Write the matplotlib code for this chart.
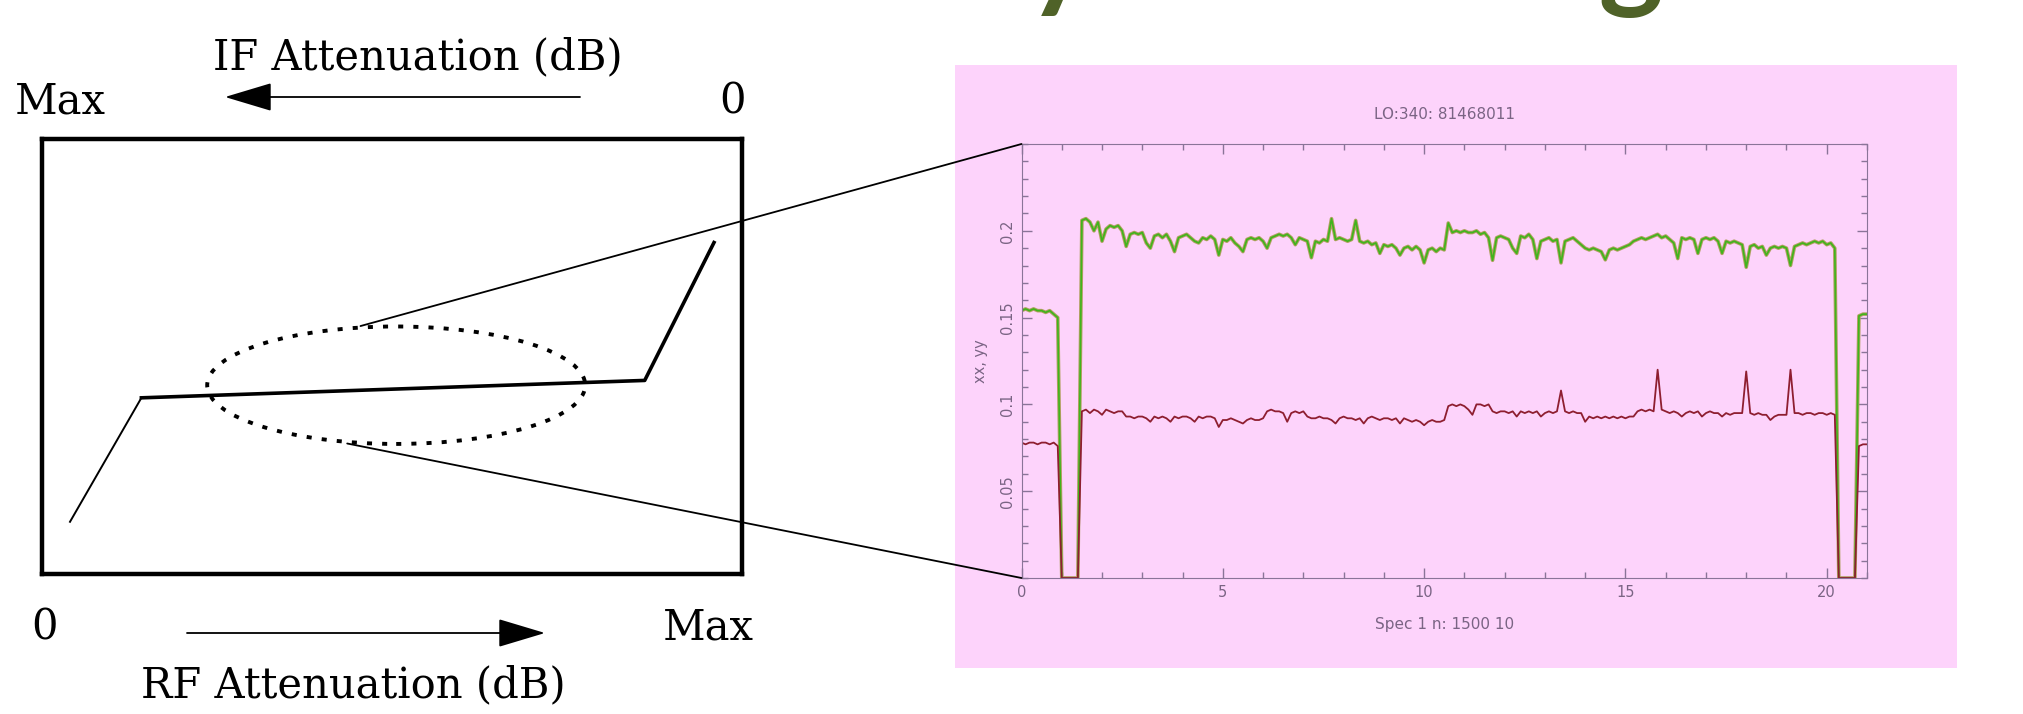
import numpy as np
import matplotlib.pyplot as plt
from matplotlib.patches import Ellipse, ConnectionPatch, FancyArrowPatch
from matplotlib.ticker import MultipleLocator

# ---- data ----
# schematic: output level vs attenuation (normalised box coords)
curve_x = [0.040, 0.142, 0.861, 0.960]
curve_y = [0.120, 0.405, 0.445, 0.762]
ellipse_c = (0.506, 0.434)
ellipse_wh = (0.540, 0.270)
conn_top = (0.455, 0.570)
conn_bot = (0.436, 0.300)

# spectrum: xx (red) and yy (green), sampled every 0.1 from 0 to 21
yy = [0.154, 0.155, 0.154, 0.155, 0.154, 0.154, 0.153, 0.154, 0.152, 0.150,
      0.0, 0.0, 0.0, 0.0, 0.0, 0.206, 0.207, 0.205, 0.200, 0.205,
      0.194, 0.201, 0.203, 0.202, 0.203, 0.200, 0.191, 0.198, 0.199, 0.198,
      0.199, 0.193, 0.190, 0.197, 0.198, 0.196, 0.198, 0.194, 0.188, 0.196,
      0.197, 0.198, 0.196, 0.194, 0.193, 0.196, 0.195, 0.197, 0.195, 0.186,
      0.195, 0.194, 0.196, 0.193, 0.191, 0.188, 0.195, 0.196, 0.195, 0.196,
      0.194, 0.190, 0.196, 0.197, 0.198, 0.197, 0.198, 0.196, 0.192, 0.196,
      0.195, 0.194, 0.1845, 0.194, 0.193, 0.195, 0.194, 0.207, 0.195, 0.196,
      0.195, 0.194, 0.195, 0.206, 0.194, 0.193, 0.194, 0.192, 0.193, 0.187,
      0.192, 0.191, 0.192, 0.190, 0.186, 0.190, 0.191, 0.189, 0.191, 0.189,
      0.1815, 0.189, 0.190, 0.188, 0.190, 0.189, 0.2045, 0.199, 0.200, 0.199,
      0.200, 0.199, 0.199, 0.200, 0.198, 0.199, 0.196, 0.183, 0.196, 0.197,
      0.196, 0.195, 0.190, 0.187, 0.197, 0.196, 0.198, 0.195, 0.184, 0.194,
      0.195, 0.196, 0.194, 0.195, 0.1815, 0.194, 0.195, 0.196, 0.194, 0.192,
      0.190, 0.189, 0.190, 0.189, 0.188, 0.1833, 0.189, 0.190, 0.189, 0.190,
      0.191, 0.192, 0.194, 0.195, 0.196, 0.195, 0.196, 0.197, 0.198, 0.196,
      0.197, 0.195, 0.193, 0.184, 0.196, 0.195, 0.196, 0.195, 0.187, 0.195,
      0.196, 0.195, 0.196, 0.194, 0.187, 0.194, 0.193, 0.194, 0.193, 0.192,
      0.179, 0.191, 0.192, 0.190, 0.191, 0.186, 0.190, 0.191, 0.190, 0.191,
      0.190, 0.180, 0.191, 0.192, 0.193, 0.192, 0.193, 0.194, 0.193, 0.194,
      0.192, 0.193, 0.190, 0.0, 0.0, 0.0, 0.0, 0.0, 0.151, 0.152,
      0.152]

xx = [0.078, 0.077, 0.078, 0.078, 0.077, 0.078, 0.078, 0.077, 0.078, 0.076,
      0.0, 0.0, 0.0, 0.0, 0.0, 0.096, 0.097, 0.095, 0.097, 0.096,
      0.094, 0.097, 0.096, 0.095, 0.096, 0.096, 0.093, 0.093, 0.092, 0.093,
      0.093, 0.092, 0.090, 0.093, 0.092, 0.093, 0.092, 0.090, 0.093, 0.092,
      0.093, 0.093, 0.092, 0.090, 0.093, 0.092, 0.093, 0.093, 0.092, 0.087,
      0.091, 0.091, 0.092, 0.091, 0.090, 0.089, 0.091, 0.092, 0.091, 0.091,
      0.092, 0.096, 0.097, 0.096, 0.096, 0.095, 0.090, 0.095, 0.096, 0.095,
      0.096, 0.093, 0.092, 0.092, 0.093, 0.092, 0.092, 0.091, 0.089, 0.092,
      0.093, 0.092, 0.092, 0.091, 0.092, 0.089, 0.092, 0.093, 0.092, 0.091,
      0.092, 0.092, 0.091, 0.092, 0.089, 0.092, 0.091, 0.090, 0.091, 0.090,
      0.088, 0.090, 0.091, 0.090, 0.090, 0.091, 0.099, 0.100, 0.099, 0.100,
      0.099, 0.097, 0.094, 0.100, 0.100, 0.099, 0.100, 0.096, 0.095, 0.096,
      0.096, 0.095, 0.096, 0.093, 0.096, 0.095, 0.096, 0.095, 0.096, 0.093,
      0.095, 0.096, 0.095, 0.096, 0.108, 0.096, 0.095, 0.096, 0.095, 0.095,
      0.090, 0.093, 0.092, 0.093, 0.092, 0.093, 0.092, 0.093, 0.092, 0.093,
      0.092, 0.093, 0.093, 0.096, 0.097, 0.096, 0.097, 0.096, 0.120, 0.097,
      0.096, 0.095, 0.096, 0.095, 0.093, 0.095, 0.096, 0.095, 0.096, 0.093,
      0.095, 0.096, 0.095, 0.095, 0.093, 0.095, 0.094, 0.095, 0.095, 0.095,
      0.119, 0.095, 0.094, 0.095, 0.094, 0.094, 0.091, 0.093, 0.094, 0.094,
      0.094, 0.120, 0.095, 0.095, 0.094, 0.095, 0.095, 0.094, 0.095, 0.095,
      0.094, 0.095, 0.094, 0.0, 0.0, 0.0, 0.0, 0.0, 0.076, 0.077,
      0.077]

chan = np.linspace(0, 21, len(yy))
xticks = [0, 5, 10, 15, 20]
yticks = [0.05, 0.1, 0.15, 0.2]
ytick_labels = ['0.05', '0.1', '0.15', '0.2']

W, H = 2023, 714
fig = plt.figure(figsize=(W / 100, H / 100), dpi=100)
fig.patch.set_facecolor('white')

def fx(px):
    return px / W

def fy(py):
    return 1 - py / H

serif = 'DejaVu Serif'

# ---- left schematic ----
ax = fig.add_axes([fx(42), fy(574), fx(742) - fx(42), fy(139) - fy(574)])
ax.set_xlim(0, 1)
ax.set_ylim(0, 1)
ax.set_xticks([])
ax.set_yticks([])
for s in ax.spines.values():
    s.set_linewidth(3.2)
    s.set_color('black')
ax.plot(curve_x[:2], curve_y[:2], color='black', lw=1.4)
ax.plot(curve_x[1:], curve_y[1:], color='black', lw=2.6)
ax.add_patch(Ellipse(ellipse_c, *ellipse_wh, fill=False, ec='black',
                     lw=2.8, ls=(0, (1.3, 2.6))))

fig.text(fx(418), fy(57), 'IF Attenuation (dB)', family=serif, fontsize=30,
         ha='center', va='center')
fig.text(fx(15), fy(102), 'Max', family=serif, fontsize=30, ha='left', va='center')
fig.text(fx(733), fy(102), '0', family=serif, fontsize=30, ha='center', va='center')
fig.text(fx(44), fy(627), '0', family=serif, fontsize=30, ha='center', va='center')
fig.text(fx(708), fy(627), 'Max', family=serif, fontsize=30, ha='center', va='center')
fig.text(fx(353), fy(685), 'RF Attenuation (dB)', family=serif, fontsize=30,
         ha='center', va='center')

arrow_style = '-|>,head_length=3.0,head_width=0.9'
fig.add_artist(FancyArrowPatch((fx(580), fy(97)), (fx(225), fy(97)),
                               transform=fig.transFigure, arrowstyle=arrow_style,
                               mutation_scale=10, lw=1.3, color='black',
                               shrinkA=0, shrinkB=0))
fig.add_artist(FancyArrowPatch((fx(187), fy(633)), (fx(545), fy(633)),
                               transform=fig.transFigure, arrowstyle=arrow_style,
                               mutation_scale=10, lw=1.3, color='black',
                               shrinkA=0, shrinkB=0))

# ---- right spectrum panel ----
pink = '#fdd3fb'
axc = '#8a7498'
txtc = '#7a6484'

panel = fig.add_axes([fx(955), fy(668), fx(1957) - fx(955), fy(65) - fy(668)])
panel.set_facecolor(pink)
panel.set_xticks([])
panel.set_yticks([])
for s in panel.spines.values():
    s.set_visible(False)

inner = fig.add_axes([fx(1021.5), fy(578), fx(1867) - fx(1021.5), fy(144) - fy(578)])
inner.set_facecolor(pink)
inner.plot(chan, yy, color='#b0a060', lw=2.6)
inner.plot(chan, yy, color='#3fb51c', lw=1.2)
inner.plot(chan, xx, color='#8e1e30', lw=1.3)
inner.set_xlim(0, 21)
inner.set_ylim(0, 0.25)
inner.set_xticks(xticks)
inner.set_yticks(yticks)
inner.set_yticklabels(ytick_labels, rotation=90, va='center')
inner.xaxis.set_minor_locator(MultipleLocator(1))
inner.yaxis.set_minor_locator(MultipleLocator(0.01))
inner.tick_params(which='both', direction='in', top=True, right=True,
                  color=axc, labelcolor=txtc, labelsize=10.5, width=1)
inner.tick_params(which='major', length=7, pad=5)
inner.tick_params(which='minor', length=4)
for s in inner.spines.values():
    s.set_color(axc)
inner.set_title('LO:340: 81468011', color=txtc, fontsize=11, pad=18)
inner.set_xlabel('Spec 1 n: 1500 10', color=txtc, fontsize=11, labelpad=12)
inner.set_ylabel('xx, yy', color=txtc, fontsize=10.5, labelpad=8)

# connectors from the ellipse to the zoomed plot
for pa, pb in [(conn_top, (0, 1)), (conn_bot, (0, 0))]:
    con = ConnectionPatch(xyA=pa, coordsA=ax.transData, xyB=pb,
                          coordsB=inner.transAxes, color='black', lw=1.3)
    fig.add_artist(con)

# slide title, cut off above the picture as in the slide grab
fig.text(fx(1664), 1 + 5 / H, 'Linearity vs Setting', family='Lato', weight='bold',
         fontsize=89, color='#4f6228', ha='right', va='baseline')

fig.savefig('out.png', dpi=100)
